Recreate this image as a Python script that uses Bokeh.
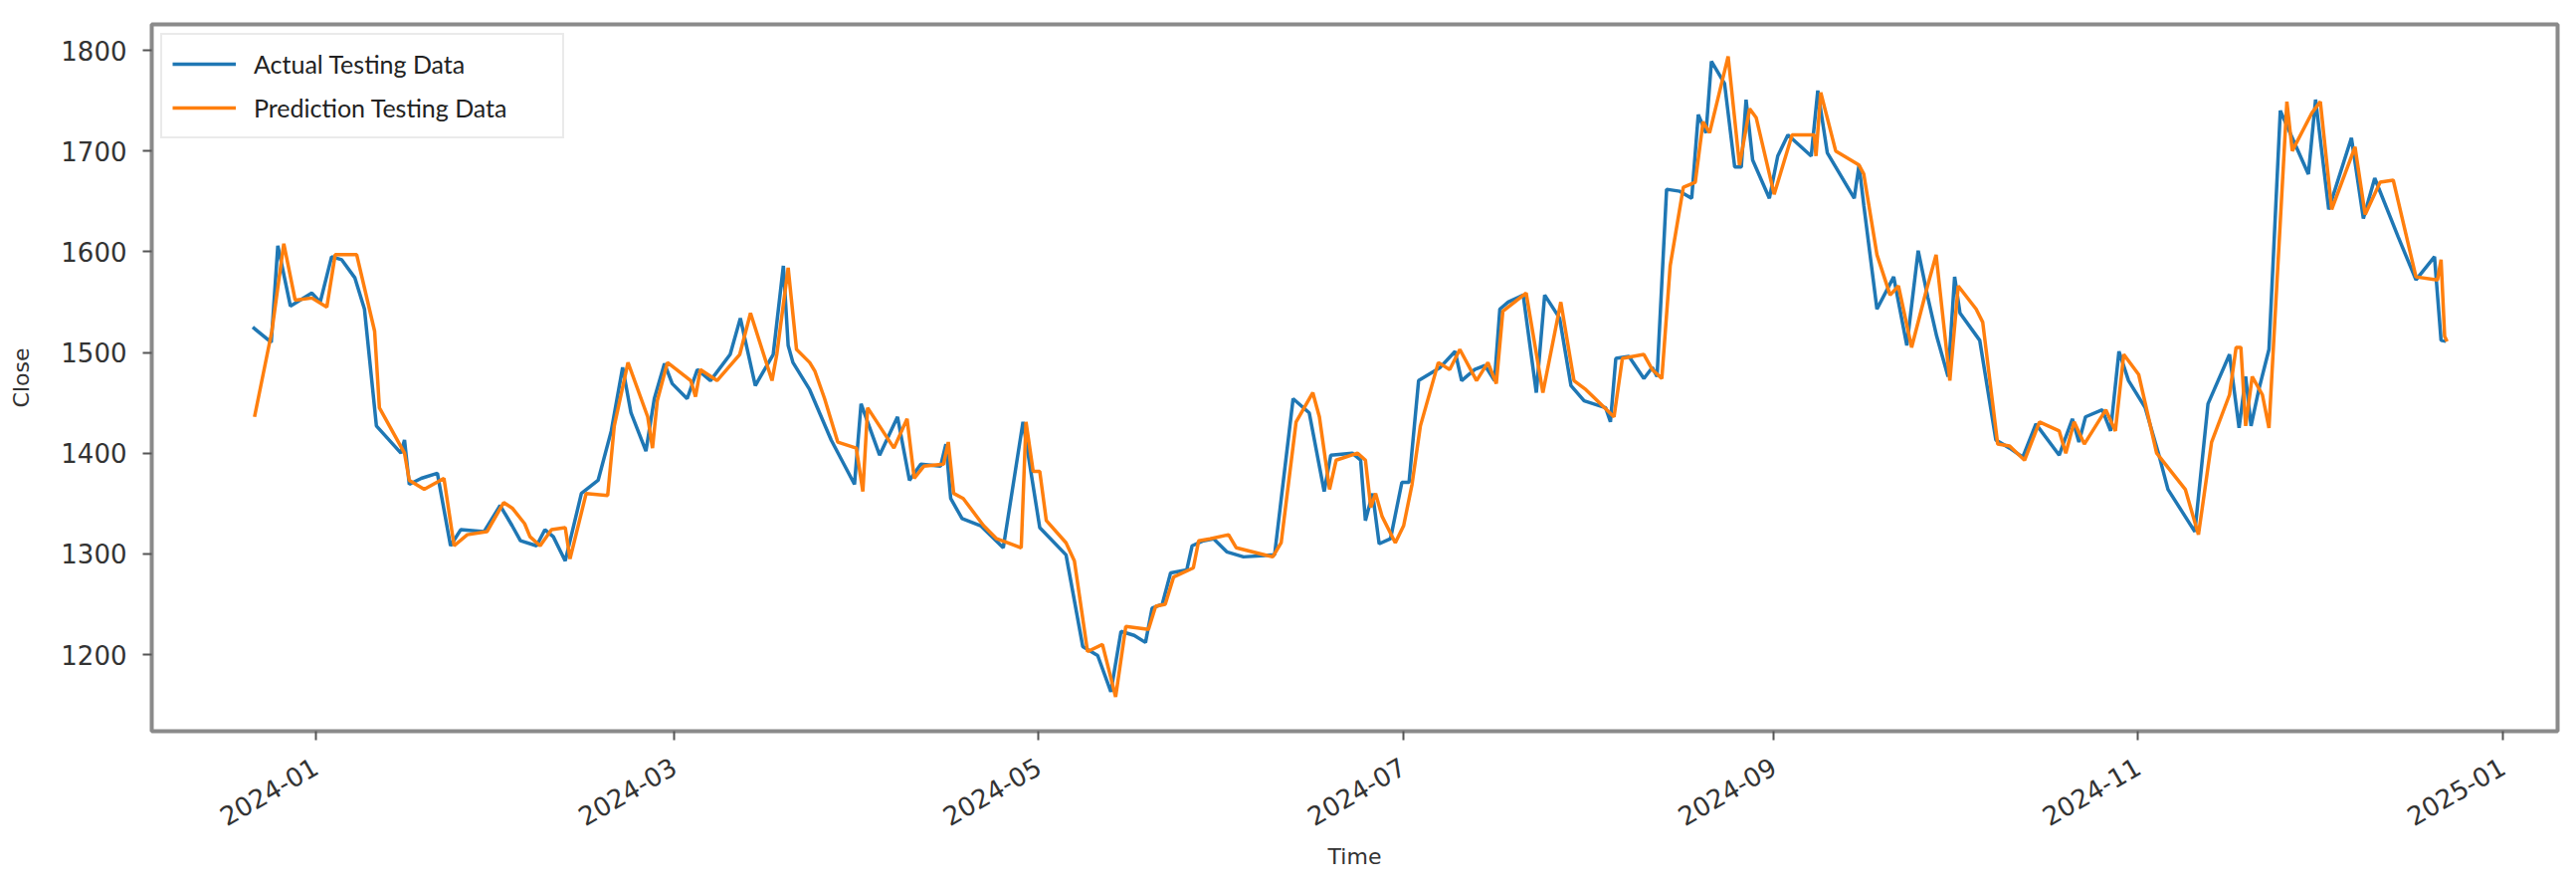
import math
import pandas as pd
from bokeh.plotting import figure
from bokeh.models import Range1d, FixedTicker, DatetimeTickFormatter, Legend, LegendItem
from bokeh.embed import file_html
from bokeh.resources import INLINE

# ---- data (days counted from 2024-01-01) ----
base = pd.Timestamp("2024-01-01")

actual_day = [-10.5, -7.4, -6.3, -4.2, -0.6, 0.8, 2.7, 4.4, 6.6, 8.2, 10.2, 14.3, 14.9, 15.7, 17.7,
              20.4, 22.6, 24.3, 28.2, 30.9, 32.9, 34.3, 37.0, 38.4, 39.8, 41.8, 44.5, 47.3, 49.5,
              51.4, 52.8, 55.3, 56.7, 58.4, 59.7, 62.2, 63.9, 66.1, 69.4, 71.1, 73.6, 76.6, 78.3,
              79.1, 79.9, 82.7, 86.3, 90.2, 91.3, 94.4, 97.4, 99.4, 101.3, 104.6, 105.5, 106.3,
              108.2, 111.3, 115.1, 118.4, 121.2, 125.6, 128.4, 130.9, 133.1, 134.8, 137.0, 138.9,
              140.0, 141.7, 143.1, 145.8, 146.7, 148.6, 150.3, 152.5, 155.3, 160.5, 163.6, 166.3,
              168.8, 169.9, 173.5, 174.9, 175.7, 176.9, 178.0, 179.9, 181.8, 183.0, 184.6, 188.2,
              190.7, 191.8, 194.0, 195.7, 197.3, 198.2, 199.6, 202.1, 204.3, 205.7, 208.2, 210.1,
              212.3, 215.9, 216.7, 217.6, 219.8, 222.3, 223.7, 224.5, 226.1, 228.3, 230.3, 231.4,
              232.7, 233.6, 235.8, 237.5, 238.6, 239.4, 240.5, 243.3, 244.7, 246.4, 250.3, 251.4,
              253.0, 257.5, 258.3, 259.1, 261.3, 264.1, 266.3, 268.2, 269.8, 271.3, 273.2, 274.3,
              275.2, 278.5, 281.2, 283.5, 285.7, 287.9, 291.8, 294.0, 295.1, 296.2, 299.0, 300.4,
              301.8, 303.4, 306.2, 308.4, 310.0, 314.5, 316.7, 320.3, 321.9, 323.0, 323.9, 325.2,
              326.9, 328.8, 330.8, 333.5, 334.7, 336.9, 340.7, 342.7, 344.6, 348.5, 351.5, 354.6,
              355.7, 356.5]
actual_close = [1525, 1510, 1606, 1546, 1559, 1550, 1595, 1592, 1574, 1543, 1427, 1400, 1413, 1369, 1375,
                1380, 1308, 1324, 1322, 1348, 1328, 1313, 1308, 1324, 1317, 1293, 1360, 1373, 1422,
                1485, 1440, 1402, 1454, 1489, 1469, 1454, 1483, 1472, 1498, 1534, 1467, 1498, 1586,
                1507, 1490, 1463, 1413, 1369, 1449, 1398, 1436, 1373, 1389, 1387, 1409, 1355,
                1335, 1328, 1306, 1431, 1326, 1299, 1208, 1199, 1163, 1223, 1219, 1212,
                1246, 1250, 1281, 1284, 1308, 1313, 1315, 1302, 1297, 1299, 1454, 1440,
                1362, 1398, 1400, 1393, 1333, 1360, 1310, 1315, 1371, 1371, 1472, 1485,
                1501, 1472, 1483, 1487, 1472, 1543, 1550, 1557, 1460, 1557, 1534, 1467,
                1452, 1445, 1431, 1494, 1496, 1474, 1485, 1476, 1662, 1660, 1653, 1736,
                1718, 1789, 1767, 1684, 1684, 1751, 1691, 1653, 1695, 1716, 1695, 1760,
                1698, 1653, 1686, 1646, 1543, 1575, 1507, 1601, 1555, 1516, 1476, 1575,
                1539, 1512, 1413, 1405, 1396, 1429, 1398, 1434, 1411, 1436, 1443, 1422,
                1501, 1472, 1445, 1400, 1364, 1322, 1449, 1498, 1425, 1476, 1427, 1463,
                1503, 1740, 1713, 1677, 1751, 1642, 1713, 1633, 1673, 1615, 1572, 1595,
                1512, 1511]

pred_day = [-10.2, -7.3, -5.3, -3.4, -0.6, 1.9, 3.3, 6.9, 9.9, 10.7, 14.9, 15.7, 18.2, 21.5, 23.2,
            25.4, 28.7, 31.5, 33.0, 35.0, 35.9, 37.6, 39.5, 41.8, 42.6, 45.3, 48.9, 50.0, 52.3,
            55.6, 56.4, 57.2, 58.9, 62.8, 63.6, 64.4, 67.2, 71.0, 72.8, 76.4, 77.2, 79.1, 80.5,
            82.7, 83.6, 85.2, 87.4, 90.5, 91.6, 92.4, 96.8, 99.0, 100.2, 101.8, 105.1, 105.9,
            106.8, 108.4, 111.8, 114.0, 118.1, 118.9, 120.1, 121.2, 122.3, 125.6, 127.0, 129.2,
            131.7, 133.9, 135.6, 139.4, 140.6, 142.2, 143.6, 146.9, 147.8, 149.7, 152.8, 154.1,
            160.2, 161.6, 164.1, 166.9, 168.0, 169.7, 170.8, 174.4, 175.7, 176.6, 177.4, 178.5,
            180.7, 182.1, 183.5, 184.9, 187.9, 189.8, 191.5, 194.3, 196.2, 197.6, 198.7, 202.6,
            205.4, 208.4, 210.6, 212.6, 217.3, 218.7, 222.3, 223.7, 225.3, 226.7, 228.9, 230.9,
            232.2, 233.3, 236.4, 238.3, 240.0, 241.1, 244.1, 247.1, 250.8, 251.1, 251.9, 254.4,
            258.3, 259.1, 261.3, 263.5, 264.9, 267.1, 269.5, 271.2, 273.5, 274.9, 277.9, 279.0,
            281.5, 283.5, 286.0, 288.5, 291.8, 292.9, 294.3, 296.0, 299.6, 301.2, 302.6, 305.1,
            308.1, 312.9, 315.1, 317.3, 320.3, 321.4, 322.2, 323.0, 324.1, 325.8, 326.9, 329.9,
            330.8, 334.1, 335.5, 337.4, 341.3, 343.0, 345.5, 347.7, 351.5, 355.1, 355.7, 356.3,
            356.7]
pred_close = [1436, 1521, 1608, 1552, 1554, 1545, 1597, 1597, 1521, 1445, 1400, 1373, 1364, 1375, 1308,
              1319, 1322, 1351, 1345, 1330, 1317, 1308, 1324, 1326, 1295, 1360, 1358, 1427, 1490,
              1436, 1405, 1452, 1490, 1472, 1456, 1483, 1472, 1498, 1539, 1472, 1498, 1584, 1503,
              1490, 1481, 1454, 1411, 1405, 1362, 1445, 1405, 1434, 1375, 1387, 1389, 1411,
              1360, 1355, 1328, 1315, 1306, 1431, 1382, 1382, 1333, 1311, 1293, 1203,
              1210, 1158, 1228, 1225, 1248, 1250, 1277, 1286, 1313, 1315, 1319, 1306,
              1297, 1311, 1431, 1460, 1436, 1364, 1393, 1400, 1393, 1346, 1360, 1337,
              1311, 1328, 1369, 1427, 1490, 1483, 1503, 1472, 1490, 1469, 1541, 1559,
              1460, 1550, 1472, 1463, 1436, 1494, 1498, 1483, 1474, 1586, 1664, 1669,
              1729, 1718, 1794, 1686, 1742, 1733, 1657, 1716, 1716, 1695, 1758, 1700,
              1686, 1677, 1597, 1557, 1566, 1505, 1560, 1597, 1472, 1566, 1543, 1530,
              1409, 1407, 1393, 1431, 1422, 1400, 1431, 1409, 1443, 1422, 1498, 1478,
              1400, 1364, 1319, 1411, 1458, 1505, 1505, 1427, 1476, 1458, 1425, 1749,
              1700, 1738, 1749, 1642, 1704, 1637, 1669, 1671, 1575, 1572, 1592, 1516,
              1511]

x_tick_labels = ["2024-01", "2024-03", "2024-05", "2024-07", "2024-09", "2024-11", "2025-01"]
y_ticks = [1200, 1300, 1400, 1500, 1600, 1700, 1800]
series_names = ["Actual Testing Data", "Prediction Testing Data"]


def to_dt(days):
    return [(base + pd.Timedelta(days=d)).to_pydatetime() for d in days]


x_start = (base + pd.Timedelta(days=-27.4)).to_pydatetime()
x_end = (base + pd.Timedelta(days=375.2)).to_pydatetime()

p = figure(width=2573, height=881, x_axis_type="datetime",
           output_backend="svg", toolbar_location=None,
           x_range=Range1d(x_start, x_end), y_range=Range1d(1123.9, 1825.7),
           min_border_left=152, min_border_right=3, min_border_top=24, min_border_bottom=147)

p.background_fill_color = "white"
p.border_fill_color = "white"
p.outline_line_color = "#8a8a8a"
p.outline_line_width = 4
p.xgrid.visible = False
p.ygrid.visible = False

r1 = p.line(to_dt(actual_day), actual_close, line_color="#1f77b4", line_width=3.5)
r2 = p.line(to_dt(pred_day), pred_close, line_color="#ff7f0e", line_width=3.5)

tick_ms = [pd.Timestamp(t + "-01").timestamp() * 1000 for t in x_tick_labels]
p.xaxis.ticker = FixedTicker(ticks=tick_ms)
fmt = "%Y-%m"
p.xaxis.formatter = DatetimeTickFormatter(years=fmt, months=fmt, days=fmt, hours=fmt,
                                          minutes=fmt, seconds=fmt, milliseconds=fmt,
                                          microseconds=fmt, minsec=fmt, hourmin=fmt)
p.xaxis.major_label_orientation = math.pi / 6
p.yaxis.ticker = FixedTicker(ticks=y_ticks)

for ax in (p.xaxis[0], p.yaxis[0]):
    ax.axis_line_color = None
    ax.major_tick_line_color = "#555555"
    ax.major_tick_line_width = 2
    ax.major_tick_in = 0
    ax.major_tick_out = 9
    ax.minor_tick_line_color = None
    ax.major_label_text_font = "DejaVu Sans"
    ax.major_label_text_font_size = "26px"
    ax.major_label_text_color = "#333333"
    ax.axis_label_text_font = "DejaVu Sans"
    ax.axis_label_text_font_size = "22px"
    ax.axis_label_text_font_style = "normal"
    ax.axis_label_text_color = "#333333"

p.xaxis.axis_label = "Time"
p.yaxis.axis_label = "Close"
p.xaxis.major_label_standoff = 24
p.yaxis.major_label_standoff = 16
p.xaxis.axis_label_standoff = 6
p.yaxis.axis_label_standoff = 24

legend = Legend(items=[LegendItem(label=series_names[0], renderers=[r1]),
                       LegendItem(label=series_names[1], renderers=[r2])],
                location="top_left", margin=9, padding=10, spacing=6,
                glyph_width=64, glyph_height=38, label_height=38, label_width=300,
                label_standoff=18, label_text_font="Lato", label_text_font_size="25px",
                label_text_color="#222222", border_line_color="#d6d6d6", border_line_width=2,
                background_fill_color="white", background_fill_alpha=1)
p.add_layout(legend)

open("out.html", "w").write(file_html(p, INLINE))
